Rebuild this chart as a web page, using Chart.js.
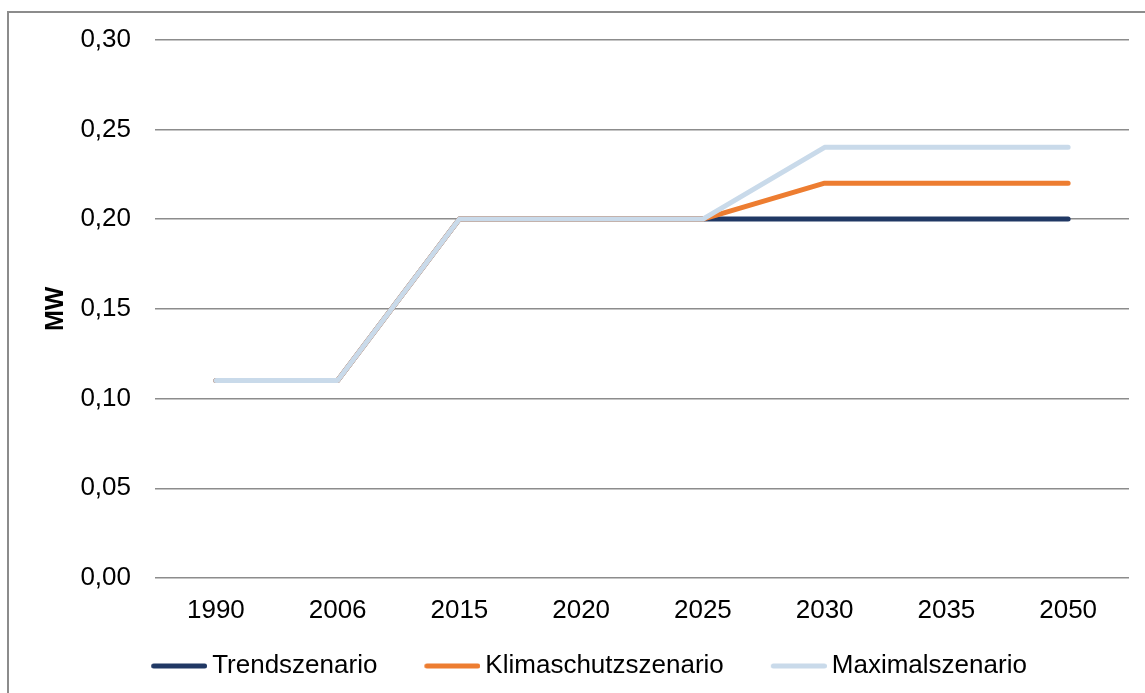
<!DOCTYPE html>
<html>
<head>
<meta charset="utf-8">
<script src="https://cdn.jsdelivr.net/npm/chart.js@4"></script>
<style>
  html, body { margin: 0; padding: 0; background: #fff; overflow: hidden; }
  #frame { position: absolute; left: 7px; top: 11px; width: 1300px; height: 900px; border: 2px solid #8c8c8c; box-sizing: border-box; }
  #chart { position: absolute; left: 0; top: 0; }
</style>
</head>
<body>
<div id="frame"></div>
<canvas id="chart" width="1145" height="693"></canvas>
<script>
// years on the category axis
const years = ['1990', '2006', '2015', '2020', '2025', '2030', '2035', '2050'];

// installed capacity in MW per scenario
const trendValues = [0.11, 0.11, 0.20, 0.20, 0.20, 0.20, 0.20, 0.20];
const klimaValues = [0.11, 0.11, 0.20, 0.20, 0.20, 0.22, 0.22, 0.22];
const maxValues   = [0.11, 0.11, 0.20, 0.20, 0.20, 0.24, 0.24, 0.24];

const seriesNames = ['Trendszenario', 'Klimaschutzszenario', 'Maximalszenario'];
const seriesColors = ['#203864', '#ED7D31', '#C9DAEA'];

const FONT = '"Liberation Sans", Arial, sans-serif';
const FONT_SIZE = 26;

// legend swatch: a round-capped line at the right end of a wider image,
// so the empty left part spaces the entries apart and the line hugs its text
function swatch(color) {
  const c = document.createElement('canvas');
  c.width = 101;
  c.height = 10;
  const g = c.getContext('2d');
  g.strokeStyle = color;
  g.lineWidth = 5;
  g.lineCap = 'round';
  g.beginPath();
  g.moveTo(47.5, 5);
  g.lineTo(98.5, 5);
  g.stroke();
  return c;
}
const swatches = seriesColors.map(swatch);

function line(i, data, order) {
  return {
    label: seriesNames[i],
    data: data,
    borderColor: seriesColors[i],
    backgroundColor: seriesColors[i],
    borderWidth: 5,
    borderCapStyle: 'round',
    borderJoinStyle: 'round',
    pointRadius: 0,
    pointHoverRadius: 0,
    tension: 0,
    order: order
  };
}

const ctx = document.getElementById('chart').getContext('2d');
new Chart(ctx, {
  type: 'line',
  data: {
    labels: years,
    datasets: [
      line(0, trendValues, 3),
      line(1, klimaValues, 2),
      line(2, maxValues, 1)
    ]
  },
  options: {
    responsive: false,
    animation: false,
    layout: { padding: { left: 12, right: 16, top: 35, bottom: 4 } },
    plugins: {
      tooltip: { enabled: false },
      legend: {
        position: 'bottom',
        labels: {
          usePointStyle: true,
          pointStyleWidth: 85,
          padding: 10,
          color: '#000',
          font: { family: FONT, size: FONT_SIZE },
          sort: (a, b) => a.datasetIndex - b.datasetIndex,
          generateLabels: (chart) => {
            const items = Chart.defaults.plugins.legend.labels.generateLabels(chart);
            items.forEach(it => { it.pointStyle = swatches[it.datasetIndex]; });
            return items;
          }
        }
      }
    },
    scales: {
      x: {
        offset: true,
        afterFit: (scale) => { scale.height = 65; },
        grid: { display: false, drawTicks: false, offset: true },
        border: { display: false },
        ticks: { color: '#000', padding: 17, maxRotation: 0, autoSkip: false, font: { family: FONT, size: FONT_SIZE } }
      },
      y: {
        min: 0,
        max: 0.3,
        afterFit: (scale) => { scale.width = 143; },
        grid: { color: '#8c8c8c', lineWidth: 1.5, drawTicks: false },
        border: { display: false },
        ticks: {
          stepSize: 0.05,
          padding: 24,
          color: '#000',
          font: { family: FONT, size: FONT_SIZE },
          callback: (v) => v.toFixed(2).replace('.', ',')
        },
        title: {
          display: true,
          text: 'MW',
          color: '#000',
          padding: { top: 29, bottom: 0 },
          font: { family: FONT, size: 25, weight: 'bold' }
        }
      }
    }
  }
});
</script>
</body>
</html>
